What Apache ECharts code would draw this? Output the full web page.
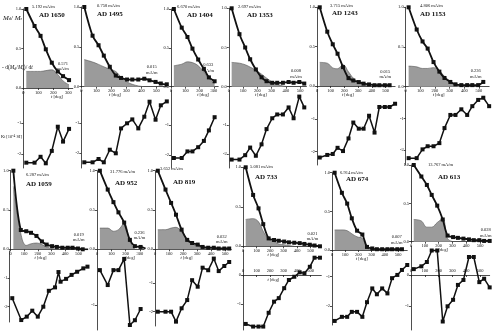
<!DOCTYPE html>
<html>
<head>
<meta charset="utf-8">
<script src="https://cdn.jsdelivr.net/npm/echarts@6/dist/echarts.min.js"></script>
<style>
  html, body { margin: 0; padding: 0; background: #fff; }
  #chart { width: 497px; height: 336px; }
</style>
</head>
<body>
<div id="chart"></div>
<script>
// demagnetisation steps (deg)
var temps = [20, 75, 115, 150, 190, 230, 265, 305, 340, 380, 420, 455, 495, 530, 570];
var temps1059 = [20, 85, 125, 165, 205, 245, 285, 330, 355, 370, 410, 450, 490, 535, 565];
var xTickVals = [0, 100, 200, 300, 400, 500];

// Md/Mr, -d(Md/Mr)/dt, Kt for each sample
var md1650 = [1.0, 0.785, 0.66, 0.49, 0.32, 0.21, 0.15, 0.10];
var dd1650 = [0.21, 0.21, 0.21, 0.22, 0.23, 0.17, 0.09, 0.04];
var k1650 = [-2.28, -2.28, -2.09, -2.30, -1.90, -1.12, -1.60, -1.19];

var md1495 = [1.0, 0.64, 0.52, 0.39, 0.25, 0.14, 0.11, 0.09, 0.09, 0.09, 0.10, 0.08, 0.06, 0.04, 0.03];
var dd1495 = [0.34, 0.31, 0.28, 0.25, 0.22, 0.19, 0.12, 0.06, 0.03, 0.01, 0];
var k1495 = [-2.30, -2.30, -2.19, -2.30, -1.88, -2.00, -1.17, -1.00, -0.87, -1.17, -0.78, -0.28, -0.88, -0.40, -0.27];

var md1404 = [1.0, 0.76, 0.64, 0.49, 0.35, 0.23, 0.12, 0.07];
var dd1404 = [0.27, 0.29, 0.32, 0.31, 0.27, 0.19, 0.10, 0.04];
var k1404 = [-2.10, -2.10, -1.88, -1.88, -1.74, -1.53, -1.18, -0.74];

var md1353 = [1.0, 0.67, 0.50, 0.35, 0.22, 0.12, 0.07, 0.05, 0.05, 0.05, 0.06, 0.05, 0.06, 0.04];
var dd1353 = [0.31, 0.30, 0.28, 0.25, 0.21, 0.16, 0.11, 0.06, 0.03, 0.01, 0];
var k1353 = [-2.18, -2.18, -2.03, -1.77, -2.05, -1.66, -1.14, -0.77, -0.64, -0.64, -0.40, -0.77, -0.03, -0.40];

var md1243 = [1.0, 0.69, 0.53, 0.41, 0.24, 0.10, 0.07, 0.05, 0.03, 0.02, 0.01, 0.01, 0.01, 0.01];
var dd1243 = [0.30, 0.29, 0.23, 0.22, 0.27, 0.18, 0.10, 0.05, 0.02, 0];
var k1243 = [-2.18, -2.10, -2.07, -1.88, -1.98, -1.59, -1.10, -1.29, -1.29, -0.89, -1.41, -0.62, -0.62, -0.62, -0.52];

var md1153 = [1.0, 0.72, 0.57, 0.48, 0.31, 0.19, 0.11, 0.06, 0.03, 0.02, 0.02, 0.02, 0.02, 0.06];
var dd1153 = [0.26, 0.25, 0.23, 0.23, 0.24, 0.20, 0.13, 0.07, 0.03, 0.01, 0];
var k1153 = [-2.26, -2.26, -1.98, -1.88, -1.88, -1.78, -1.30, -0.88, -0.88, -0.70, -0.88, -0.60, -0.40, -0.33, -0.60];

var md1059 = [1.0, 0.245, 0.23, 0.21, 0.17, 0.10, 0.06, 0.04, 0.03, 0.02, 0.02, 0.02, 0.01, 0.0, 0.0];
var dd1059 = [0.80, 0.20, 0.05, 0.07, 0.08, 0.06, 0.03, 0.01, 0];
var k1059 = [-1.70, -2.47, -2.35, -2.14, -2.35, -2.00, -1.44, -1.32, -0.78, -1.12, -1.02, -0.88, -0.77, -0.65, -0.59];

var md952 = [1.0, 0.76, 0.60, 0.47, 0.34, 0.12, 0.04, 0.03, 0.01];
var dd952 = [0.27, 0.27, 0.23, 0.25, 0.33, 0.10, 0];
var k952 = [-0.34, -0.62, -0.34, -0.34, -0.13, -1.37, -1.28, -1.07];

var md819 = [1.0, 0.76, 0.59, 0.44, 0.25, 0.12, 0.08, 0.06, 0.03, 0.02, 0.02, 0.01, 0.01, 0.01];
var dd819 = [0.25, 0.25, 0.27, 0.28, 0.22, 0.12, 0.07, 0.04, 0.02, 0];
var k819 = [-2.00, -2.00, -2.00, -2.35, -1.88, -1.59, -0.89, -1.12, -0.45, -0.54, -0.13, -0.57, -0.39, -0.25];

var md733 = [1.0, 0.65, 0.48, 0.28, 0.10, 0.08, 0.07, 0.06, 0.05, 0.045, 0.04, 0.03, 0.02, 0.01, 0.0];
var dd733 = [0.34, 0.35, 0.31, 0.19, 0.09, 0.06, 0.03, 0.02, 0.01, 0];
var k733 = [-1.67, -1.76, -1.76, -1.76, -1.29, -0.91, -0.79, -0.45, -0.17, -0.06, 0.09, 0.06, 0.28, 0.59, 0.59];

var md674 = [1.0, 0.74, 0.60, 0.41, 0.25, 0.20, 0.04, 0.02, 0.01, 0.01, 0.01, 0.01, 0.01, 0.01];
var dd674 = [0.26, 0.26, 0.25, 0.21, 0.17, 0.15, 0.03, 0];
var k674 = [-2.51, -2.37, -2.37, -2.20, -2.20, -2.37, -1.87, -1.40, -1.60, -1.40, -1.57, -1.05, -0.94, -0.77, -0.60];

var md613 = [1.0, 0.85, 0.74, 0.61, 0.47, 0.29, 0.08, 0.06, 0.05, 0.04, 0.03, 0.02, 0.02, 0.01, 0.01];
var dd613 = [0.29, 0.27, 0.19, 0.19, 0.25, 0.30, 0.04, 0];
var k613 = [0.19, 0.28, 0.42, 0.79, 0.79, -1.50, -1.01, -0.80, -0.32, -0.16, 0.58, 0.58, -0.23, -0.12, -0.40];

var panels = [
  { name: 'AD 1650', nrm: '5.192 mA/m', last: '0.571', md: md1650, dd: dd1650, k: k1650 },
  { name: 'AD 1495', nrm: '0.758 mA/m', last: '0.015', md: md1495, dd: dd1495, k: k1495 },
  { name: 'AD 1404', nrm: '6.670 mA/m', last: '0.633', md: md1404, dd: dd1404, k: k1404 },
  { name: 'AD 1353', nrm: '2.697 mA/m', last: '0.008', md: md1353, dd: dd1353, k: k1353 },
  { name: 'AD 1243', nrm: '3.715 mA/m', last: '0.015', md: md1243, dd: dd1243, k: k1243 },
  { name: 'AD 1153', nrm: '4.806 mA/m', last: '0.236', md: md1153, dd: dd1153, k: k1153 },
  { name: 'AD 1059', nrm: '6.287 mA/m', last: '0.019', md: md1059, dd: dd1059, k: k1059, kt: temps1059 },
  { name: 'AD 952', nrm: '31.776 mA/m', last: '0.236', md: md952, dd: dd952, k: k952 },
  { name: 'AD 819', nrm: '3.652 mA/m', last: '0.032', md: md819, dd: dd819, k: k819 },
  { name: 'AD 733', nrm: '5.081 mA/m', last: '0.021', md: md733, dd: dd733, k: k733 },
  { name: 'AD 674', nrm: '6.914 mA/m', last: '0.007', md: md674, dd: dd674, k: k674 },
  { name: 'AD 613', nrm: '13.767 mA/m', last: '0.028', md: md613, dd: dd613, k: k613 }
];

// pixel layout: x0 = px of 0 deg, s = px per deg, u1/u0 = px of 1.0 / 0.0,
// lt/lb = lower panel extent, lv = two (value, px) pairs for K scale
var layout = [
  { x0: 23.3, s: 0.150, xMax: 330, u1: 9, u0: 88, lt: 91, lb: 168, lv: [-1, 123, -2, 154], kTicks: [-2, -1], tn: [32, 7.3], th: [39, 15], te: [63, 66.5] },
  { x0: 81.3, s: 0.150, xMax: 570, u1: 7, u0: 86.7, lt: 90, lb: 168, lv: [-1, 123.3, -2, 153.3], kTicks: [-2, -1], tn: [97, 6], th: [97, 14], te: [151.7, 70] },
  { x0: 171, s: 0.143, xMax: 330, u1: 9, u0: 86.7, lt: 90, lb: 168, lv: [-1, 125, -2, 155], kTicks: [-2, -1], tn: [177, 7.3], th: [187, 15], te: [208.3, 68] },
  { x0: 228.8, s: 0.1424, xMax: 545, u1: 8.3, u0: 86.7, lt: 90, lb: 168, lv: [-1, 125, -2, 154.3], kTicks: [-2, -1], tn: [238, 7.3], th: [247, 15], te: [296, 73.7] },
  { x0: 317, s: 0.137, xMax: 570, u1: 7.3, u0: 86, lt: 89, lb: 165, lv: [-1, 119.3, -2, 151.7], kTicks: [-2, -1], tn: [330, 6], th: [332, 13.5], te: [385.3, 74.5] },
  { x0: 405.7, s: 0.1464, xMax: 570, u1: 7.3, u0: 86.7, lt: 90, lb: 165, lv: [-1, 118.7, -2, 150], kTicks: [-2, -1], tn: [420, 6], th: [420, 14], te: [475.8, 73.7] },
  { x0: 9.5, s: 0.138, xMax: 565, u1: 170.7, u0: 249.3, lt: 251, lb: 322, lv: [-1, 278.3, -2, 306.7], kTicks: [-2, -1], tn: [26, 175], th: [26, 184], te: [78.7, 237.5] },
  { x0: 97, s: 0.143, xMax: 330, u1: 170.7, u0: 249.3, lt: 251, lb: 330, lv: [0, 252, -1, 305.3], kTicks: [-1], tn: [110, 171.7], th: [115, 183], te: [139.5, 235.5] },
  { x0: 155, s: 0.140, xMax: 545, u1: 170.7, u0: 249.3, lt: 251, lb: 326, lv: [-1, 283.3, -2, 311.7], kTicks: [-2, -1], tn: [160, 169.3], th: [173, 182], te: [221.7, 239.5] },
  { x0: 243, s: 0.135, xMax: 580, u1: 167.3, u0: 246.3, lt: 250, lb: 330, lv: [0, 275, -1, 304.3], kTicks: [-1, 0], tn: [250, 167.3], th: [255, 177.3], te: [312.5, 236.3], zeroAxis: true },
  { x0: 332, s: 0.132, xMax: 570, u1: 172.7, u0: 250, lt: 253, lb: 325, lv: [-1, 276.7, -2, 306], kTicks: [-2, -1], tn: [340, 172.7], th: [346, 179.3], te: [396.7, 240] },
  { x0: 411, s: 0.138, xMax: 570, u1: 165, u0: 241.7, lt: 246, lb: 330, lv: [0, 275, -1, 306], kTicks: [-1, 0], tn: [428, 165], th: [438, 176.7], te: [485.8, 233], zeroAxis: true }
];

var SERIF = 'Liberation Serif';
var grids = [], xAxes = [], yAxes = [], series = [], graphics = [];

function pairs(t, v) {
  return v.map(function (y, j) { return [t[j], y]; });
}

panels.forEach(function (p, i) {
  var L = layout[i];
  var w = L.xMax * L.s;
  var ticks = xTickVals.filter(function (v) { return v <= L.xMax; });
  var ppu = (L.lv[3] - L.lv[1]) / (L.lv[0] - L.lv[2]);
  var kMax = L.lv[0] + (L.lv[1] - L.lt) / ppu;
  var kMin = L.lv[0] - (L.lb - L.lv[1]) / ppu;
  var zeroPx = L.lv[1] + L.lv[0] * ppu;   // px of K = 0
  var ui = 2 * i, li = 2 * i + 1;

  grids.push({ left: L.x0, top: L.u1, width: w, height: L.u0 - L.u1 });
  grids.push({ left: L.x0, top: L.lt, width: w, height: L.lb - L.lt });

  var lineSt = { color: '#222', width: 0.8 };
  xAxes.push({
    type: 'value', gridIndex: ui, min: 0, max: L.xMax,
    axisLine: { lineStyle: lineSt },
    axisTick: { length: 2, lineStyle: lineSt, customValues: ticks },
    axisLabel: { fontSize: 4.5, fontFamily: SERIF, color: '#111', margin: 2, customValues: ticks },
    splitLine: { show: false }
  });
  yAxes.push({
    type: 'value', gridIndex: ui, min: 0, max: 1,
    axisLine: { show: true, lineStyle: lineSt },
    axisTick: { show: true, length: 2, lineStyle: lineSt, customValues: [0, 0.5, 1] },
    axisLabel: { fontSize: 4.5, fontFamily: SERIF, color: '#111', margin: 2, customValues: [0, 0.5, 1],
      formatter: function (v) { return v.toFixed(1); } },
    splitLine: { show: false }
  });

  // lower x axis only drawn where K crosses zero; shifted up to the zero line
  xAxes.push({
    type: 'value', gridIndex: li, min: 0, max: L.xMax, show: !!L.zeroAxis,
    offset: -(L.lb - zeroPx),
    axisLine: { onZero: false, lineStyle: lineSt },
    axisTick: { length: 2, lineStyle: lineSt, customValues: ticks },
    axisLabel: { inside: true, fontSize: 4.5, fontFamily: SERIF, color: '#111', margin: 2, customValues: ticks },
    splitLine: { show: false }
  });
  yAxes.push({
    type: 'value', gridIndex: li, min: kMin, max: kMax,
    axisLine: { show: true, onZero: false, lineStyle: lineSt },
    axisTick: { show: true, length: 2, lineStyle: lineSt, customValues: L.kTicks },
    axisLabel: { fontSize: 4.5, fontFamily: SERIF, color: '#111', margin: 2, customValues: L.kTicks },
    splitLine: { show: false }
  });

  series.push({
    type: 'line', xAxisIndex: ui, yAxisIndex: ui, data: pairs(temps, p.dd),
    smooth: 0.4, showSymbol: false, silent: true, z: 1,
    lineStyle: { color: '#555', width: 0.6 },
    areaStyle: { color: '#9b9b9b', opacity: 1 }
  });
  series.push({
    type: 'line', xAxisIndex: ui, yAxisIndex: ui, data: pairs(temps, p.md),
    smooth: 0.3, symbol: 'rect', symbolSize: 4, z: 3,
    itemStyle: { color: '#111' }, lineStyle: { color: '#111', width: 1.8 }
  });
  series.push({
    type: 'line', xAxisIndex: li, yAxisIndex: li, data: pairs(p.kt || temps, p.k),
    symbol: 'rect', symbolSize: 4, z: 3,
    itemStyle: { color: '#111' }, lineStyle: { color: '#111', width: 1.5 }
  });

  graphics.push({ type: 'text', x: L.tn[0], y: L.tn[1],
    style: { text: p.nrm, font: '4.5px ' + SERIF, fill: '#111', verticalAlign: 'middle' } });
  graphics.push({ type: 'text', x: L.th[0], y: L.th[1],
    style: { text: p.name, font: 'bold 7px ' + SERIF, fill: '#111', verticalAlign: 'middle' } });
  graphics.push({ type: 'text', x: L.te[0], y: L.te[1],
    style: { text: p.last + '\nmA/m', font: '4.5px ' + SERIF, lineHeight: 5.5, fill: '#111',
      align: 'center', verticalAlign: 'middle' } });
  graphics.push({ type: 'text', x: L.x0 + 225 * L.s, y: L.u0 + 8.5,
    style: { text: '{i|t} [deg]', font: '4.5px ' + SERIF, fill: '#111', align: 'center', verticalAlign: 'middle',
      rich: { i: { fontStyle: 'italic', fontSize: 4.5, fontFamily: SERIF } } } });
  if (L.zeroAxis && i === 9) {
    graphics.push({ type: 'text', x: L.x0 + 225 * L.s, y: zeroPx + 4.5,
      style: { text: '{i|t} [deg]', font: '4.5px ' + SERIF, fill: '#111', align: 'center', verticalAlign: 'middle',
        rich: { i: { fontStyle: 'italic', fontSize: 4.5, fontFamily: SERIF } } } });
  }
});

// axis titles on the first column
graphics.push({ type: 'text', x: 3, y: 18,
  style: { text: '{i|M}{s|d}{n|/ }{i|M}{s|r}', fill: '#111', verticalAlign: 'middle',
    rich: { i: { fontStyle: 'italic', fontSize: 7, fontFamily: SERIF }, s: { fontSize: 4.5, fontFamily: SERIF, verticalAlign: 'bottom' },
      n: { fontSize: 7, fontFamily: SERIF } } } });
graphics.push({ type: 'text', x: 2, y: 68,
  style: { text: '{n|- d(}{i|M}{s|d}{n|/}{i|M}{s|r}{n|)/ d}{i|t}', fill: '#111', verticalAlign: 'middle',
    rich: { i: { fontStyle: 'italic', fontSize: 5.5, fontFamily: SERIF }, s: { fontSize: 4, fontFamily: SERIF, verticalAlign: 'bottom' },
      n: { fontSize: 5.5, fontFamily: SERIF } } } });
graphics.push({ type: 'text', x: 1, y: 136.5,
  style: { text: '{n|K}{s|t}{n| [10}{p|-4}{n| SI]}', fill: '#111', verticalAlign: 'middle',
    rich: { n: { fontSize: 4.5, fontFamily: SERIF }, s: { fontSize: 3.5, fontFamily: SERIF, verticalAlign: 'bottom' },
      p: { fontSize: 3.5, fontFamily: SERIF, verticalAlign: 'top' } } } });

var chart = echarts.init(document.getElementById('chart'));
chart.setOption({
  backgroundColor: '#fff',
  animation: false,
  grid: grids,
  xAxis: xAxes,
  yAxis: yAxes,
  series: series,
  graphic: graphics
});
</script>
</body>
</html>
